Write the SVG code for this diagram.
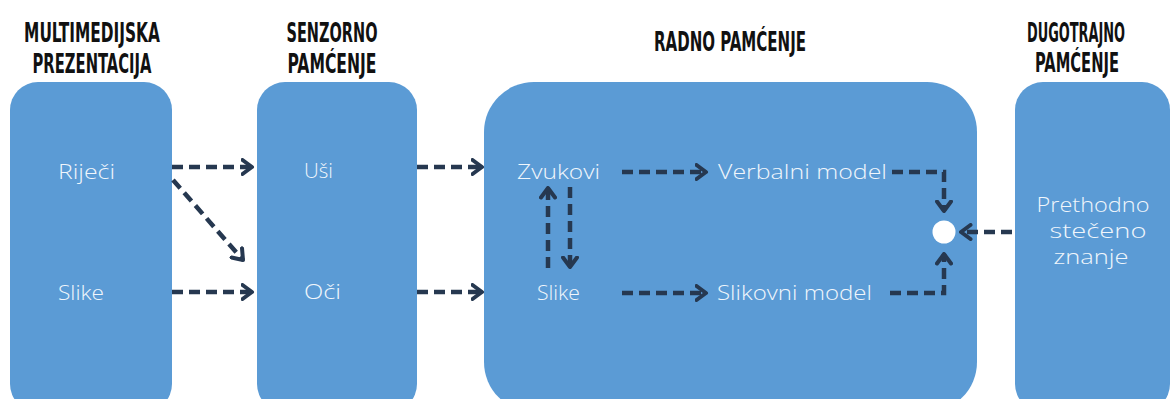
<svg xmlns="http://www.w3.org/2000/svg" width="1171" height="399" viewBox="0 0 1171 399">
  <style>
    .box { fill: #5b9bd5; }
    .hdr { font-family: "DejaVu Sans Condensed", "DejaVu Sans", sans-serif; font-weight: bold; font-size: 27px; fill: #111111; text-anchor: middle; }
    .lbl { font-family: "Open Sans", "DejaVu Sans", sans-serif; font-weight: 300; font-size: 20.5px; fill: #f0f6fc; }
    .mid { text-anchor: middle; }
    .con { fill: none; stroke: #263850; stroke-width: 4.5; stroke-dasharray: 11 6; }
  </style>
  <defs>
    <marker id="ah" viewBox="0 0 14 18" refX="11.5" refY="9" markerWidth="14" markerHeight="18" markerUnits="userSpaceOnUse" orient="auto">
      <path d="M2,2 L11.5,9 L2,16" fill="none" stroke="#263850" stroke-width="4" stroke-linecap="round" stroke-linejoin="round"/>
    </marker>
  </defs>
  <rect width="1171" height="399" fill="#ffffff"/>

  <g id="headers">
    <text class="hdr" transform="translate(92,42) scale(0.65,1)" textLength="209" lengthAdjust="spacingAndGlyphs">MULTIMEDIJSKA</text>
    <text class="hdr" transform="translate(92,73) scale(0.65,1)" textLength="183" lengthAdjust="spacingAndGlyphs">PREZENTACIJA</text>
    <text class="hdr" transform="translate(332,42) scale(0.65,1)" textLength="140" lengthAdjust="spacingAndGlyphs">SENZORNO</text>
    <text class="hdr" transform="translate(332,73) scale(0.65,1)" textLength="137" lengthAdjust="spacingAndGlyphs">PAMĆENJE</text>
    <text class="hdr" transform="translate(730,51) scale(0.65,1)" textLength="234" lengthAdjust="spacingAndGlyphs">RADNO PAMĆENJE</text>
    <text class="hdr" transform="translate(1076,42) scale(0.65,1)" textLength="151" lengthAdjust="spacingAndGlyphs">DUGOTRAJNO</text>
    <text class="hdr" transform="translate(1077,72) scale(0.65,1)" textLength="129" lengthAdjust="spacingAndGlyphs">PAMĆENJE</text>
  </g>

  <g id="multimedijska">
    <rect class="box" x="10" y="82" width="162" height="330" rx="28"/>
    <text class="lbl" x="58" y="179" textLength="57" lengthAdjust="spacingAndGlyphs">Riječi</text>
    <text class="lbl" x="58" y="300" textLength="46" lengthAdjust="spacingAndGlyphs">Slike</text>
  </g>

  <g id="senzorno">
    <rect class="box" x="257" y="82" width="160" height="330" rx="28"/>
    <text class="lbl" x="304" y="178" textLength="29" lengthAdjust="spacingAndGlyphs">Uši</text>
    <text class="lbl" x="304" y="299" textLength="37" lengthAdjust="spacingAndGlyphs">Oči</text>
  </g>

  <g id="radno">
    <rect class="box" x="484" y="82" width="493" height="330" rx="50"/>
    <text class="lbl" x="517" y="179" textLength="83" lengthAdjust="spacingAndGlyphs">Zvukovi</text>
    <text class="lbl" x="718" y="179" textLength="169" lengthAdjust="spacingAndGlyphs">Verbalni model</text>
    <text class="lbl" x="537" y="300" textLength="43" lengthAdjust="spacingAndGlyphs">Slike</text>
    <text class="lbl" x="717" y="300" textLength="155" lengthAdjust="spacingAndGlyphs">Slikovni model</text>
    <circle cx="944" cy="232" r="11.5" fill="#ffffff"/>
  </g>

  <g id="dugotrajno">
    <rect class="box" x="1015" y="82" width="155" height="330" rx="28"/>
    <text class="lbl mid" x="1093" y="212" textLength="113" lengthAdjust="spacingAndGlyphs">Prethodno</text>
    <text class="lbl mid" x="1098" y="238" textLength="97" lengthAdjust="spacingAndGlyphs">stečeno</text>
    <text class="lbl mid" x="1091" y="264" textLength="75" lengthAdjust="spacingAndGlyphs">znanje</text>
  </g>

  <g id="connectors">
    <path class="con" d="M172,167 H252" marker-end="url(#ah)"/>
    <path class="con" d="M173,180 L243,260" marker-end="url(#ah)"/>
    <path class="con" d="M172,292 H252" marker-end="url(#ah)"/>
    <path class="con" d="M417,167 H482" marker-end="url(#ah)"/>
    <path class="con" d="M417,292 H482" marker-end="url(#ah)"/>
    <path class="con" d="M622,172 H706" marker-end="url(#ah)"/>
    <path class="con" d="M622,293 H706" marker-end="url(#ah)"/>
    <path class="con" d="M548,268 V188" marker-end="url(#ah)"/>
    <path class="con" d="M570,187 V267" marker-end="url(#ah)"/>
    <path class="con" d="M892,172 H944 V211" marker-end="url(#ah)"/>
    <path class="con" d="M890,293 H944 V254" marker-end="url(#ah)"/>
    <path class="con" d="M1012,232 H961" marker-end="url(#ah)"/>
  </g>
</svg>
